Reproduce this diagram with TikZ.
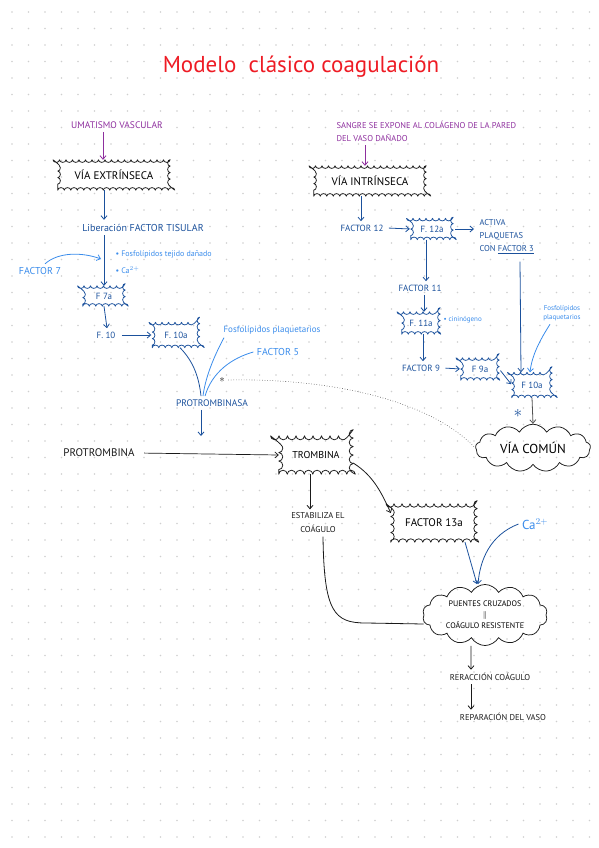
\documentclass[tikz,border=0pt]{standalone}
\usepackage{fontspec}
\setmainfont{PT Sans}
\usepackage{xcolor}
\usepackage{tikz}
\usetikzlibrary{arrows.meta,shapes.symbols,decorations.pathmorphing}
\definecolor{cdark}{HTML}{1B519C}
\definecolor{clight}{HTML}{3A8CEB}
\definecolor{cpurp}{HTML}{8E2F9E}
\definecolor{cred}{HTML}{EE1B24}
\definecolor{cdot}{HTML}{CFCFCF}
\definecolor{cink}{HTML}{1A1A1A}
\tikzset{burst/.style={rectangle,inner sep=2pt},
  spk/.style={draw=cink,line width=0.75pt,line join=round,decorate,
    decoration={bumps,segment length=13pt,amplitude=2.6pt}},
  puff/.style={cloud,draw=cink,line width=0.75pt,cloud puffs=14,cloud puff arc=120,inner sep=0pt},
  arr/.style={-{Straight Barb[length=3.5pt,width=6pt]},line width=0.8pt},
  lnk/.style={line width=0.8pt}}
\newcommand{\hand}[2]{\fontsize{#1}{#2}\selectfont}
\newcommand{\spiky}[2][]{\draw[spk,#1] (#2.south west) -- (#2.south east) -- (#2.north east) -- (#2.north west) -- cycle;}

\begin{document}
\begin{tikzpicture}[x=1pt,y=-1pt,font=\hand{10}{12}]
\useasboundingbox (0,0) rectangle (599,848);
% dotted paper
\foreach \gx in {0,...,35}{\foreach \gy in {0,...,50}{
  \fill[cdot] (12+\gx*16.5,12+\gy*16.5) circle (0.8pt);}}
\node[text=cred,font=\hand{23}{26}] (title) at (301,67) {Modelo\ \ clásico coagulación};
% left column: extrinsic pathway
\node[text=cpurp,font=\hand{9.5}{11}] (trauma) at (117,125) {UMATISMO VASCULAR};
\node[burst,minimum width=112pt,minimum height=30pt,font=\hand{11}{13}] (extr) at (114,175) {VÍA EXTRÍNSECA};
\node[text=cdark,font=\hand{10}{12}] (libft) at (143,228) {Liberación FACTOR TISULAR};
\node[text=clight,anchor=west,font=\hand{8}{10}] (fosf1) at (112,254) {• Fosfolípidos tejido dañado};
\node[text=clight,anchor=west,font=\hand{8}{10}] (ca1) at (112,270) {• Ca$^{2+}$};
\node[text=clight,font=\hand{10}{12}] (f7) at (40,271) {FACTOR 7};
\node[burst,text=cdark,minimum width=42pt,minimum height=20pt,font=\hand{9}{11}] (f7a) at (104,296) {F 7a};
\node[text=cdark,font=\hand{9}{11}] (f10) at (106,335) {F. 10};
\node[burst,text=cdark,minimum width=47pt,minimum height=25pt,font=\hand{9}{11}] (f10a) at (176,335) {F. 10a};
\node[text=clight,font=\hand{9}{11}] (fosf2) at (272,330) {Fosfolípidos plaquetarios};
\node[text=clight,font=\hand{10}{12}] (fac5) at (278,352) {FACTOR 5};
\node[text=cink,font=\hand{11}{11}] (star1) at (222,380) {$\ast$};
\node[text=cdark,font=\hand{9.5}{11}] (protromb) at (212,403) {PROTROMBINASA};
\node[text=cink,font=\hand{11}{13}] (protrombina) at (99,453) {PROTROMBINA};
\node[burst,minimum width=74pt,minimum height=38pt,font=\hand{10}{12}] (trombina) at (316,455) {TROMBINA};
\node[text=cink,align=center,font=\hand{8.5}{14}] (estab) at (318,523) {ESTABILIZA EL\\COÁGULO};
\node[burst,minimum width=86pt,minimum height=38pt,font=\hand{11}{13}] (f13a) at (434,523) {FACTOR 13a};
\node[text=clight,font=\hand{13}{15}] (ca2) at (535,524) {Ca$^{2+}$};
\node[puff,minimum width=125pt,minimum height=58pt,aspect=2.3,align=center,font=\hand{8}{11}] (puentes) at (485,615)
  {PUENTES CRUZADOS\\$\parallel$\\COÁGULO RESISTENTE};
\node[text=cink,font=\hand{8.5}{10}] (rerac) at (490,677) {RERACCIÓN COÁGULO};
\node[text=cink,font=\hand{8.5}{10}] (repar) at (503,717) {REPARACIÓN DEL VASO};
% right column: intrinsic pathway
\node[text=cpurp,anchor=west,align=left,font=\hand{8.5}{13}] (sangre) at (333,131)
  {SANGRE SE EXPONE AL COLÁGENO DE LA PARED\\DEL VASO DAÑADO};
\node[burst,minimum width=112pt,minimum height=30pt,font=\hand{11}{13}] (intr) at (370,181) {VÍA INTRÍNSECA};
\node[text=cdark,font=\hand{9}{11}] (f12) at (362,228) {FACTOR 12};
\node[burst,text=cdark,minimum width=42pt,minimum height=21pt,font=\hand{9}{11}] (f12a) at (432,229) {F. 12a};
\node[text=cdark,anchor=west,align=left,font=\hand{8.5}{13}] (activa) at (476,237)
  {ACTIVA\\PLAQUETAS\\CON \underline{FACTOR 3}};
\node[text=cdark,font=\hand{9}{11}] (f11) at (420,288) {FACTOR 11};
\node[burst,text=cdark,minimum width=38pt,minimum height=22pt,font=\hand{9}{11}] (f11a) at (421,323) {F. 11a};
\node[text=clight,anchor=west,font=\hand{7}{9}] (cinin) at (440,320) {• cininógeno};
\node[text=cdark,font=\hand{9}{11}] (f9) at (421,368) {FACTOR 9};
\node[burst,text=cdark,minimum width=38pt,minimum height=22pt,font=\hand{9}{11}] (f9a) at (480,369) {F 9a};
\node[burst,text=cdark,minimum width=40pt,minimum height=25pt,font=\hand{9}{11}] (f10b) at (532,385) {F 10a};
\node[text=clight,align=center,font=\hand{7}{9}] (fosf3) at (562,313) {Fosfolípidos\\plaquetarios};
\node[text=cdark,font=\hand{17}{17}] (star2) at (518,413) {$\ast$};
\node[puff,minimum width=115pt,minimum height=45pt,aspect=2.6,cloud puffs=13,font=\hand{13}{15}] (comun) at (533,448) {VÍA COMÚN};
\coordinate (j7) at (101,259);
\coordinate (pj) at (201,436);
% spiky outlines
\spiky{extr}
\spiky{intr}
\spiky[draw=cdark]{f7a}
\spiky[draw=cdark]{f10a}
\spiky[draw=cdark]{f12a}
\spiky[draw=cdark]{f11a}
\spiky[draw=cdark]{f9a}
\spiky[draw=cdark]{f10b}
\spiky[decoration={bumps,segment length=17pt,amplitude=4pt}]{trombina}
\spiky[decoration={bumps,segment length=16pt,amplitude=3.4pt}]{f13a}
% connectors
\draw[arr,cpurp] ([xshift=-14]trauma.south) -- ([xshift=-11]extr.north);
\draw[arr,cpurp] ([xshift=32]sangre.south west) -- ([xshift=-5]intr.north);
\draw[arr,cdark] ([xshift=-10]extr.south) -- ([xshift=-39,yshift=1]libft.north);
\draw[arr,cdark] ([xshift=-39]libft.south) -- (f7a.north);
\draw[arr,clight] ([xshift=5]f7.north) .. controls (58,252) and (82,252) .. (j7);
\draw[arr,cdark] (f7a.south) -- ([xshift=1]f10.north);
\draw[arr,cdark,shorten <=3pt,shorten >=1pt] (f10.east) -- (f10a.west);
\draw[lnk,cdark] ([xshift=4]f10a.south) .. controls (194,362) and (199,378) .. ([xshift=-11]protromb.north);
\draw[lnk,clight] ([xshift=-48]fosf2.south) .. controls (212,360) and (205,380) .. ([xshift=-9]protromb.north);
\draw[lnk,clight] (fac5.west) .. controls (232,358) and (212,372) .. ([xshift=-7]protromb.north);
\draw[cink!80,line width=0.6pt,dotted] (star1.east) .. controls (330,378) and (430,400) .. (comun.west);
\draw[arr,cdark] ([xshift=-11]protromb.south) -- (pj);
\draw[arr,cink,line width=0.7pt,shorten <=6pt] (protrombina.east) -- (trombina.west);
\draw[arr,cink] ([xshift=-6]trombina.south) -- ([xshift=-8]estab.north);
\draw[lnk,cink] ([xshift=5]estab.south) .. controls (324,612) and (334,623) .. (366,623) -- ([yshift=-9]puentes.west);
\draw[arr,cink] ([yshift=-8]trombina.east) .. controls (374,476) and (382,494) .. ([yshift=10]f13a.west);
\draw[arr,cdark] ([xshift=31]f13a.south) -- ([xshift=-8]puentes.north);
\draw[arr,cdark] (ca2.west) .. controls (490,535) and (480,560) .. ([xshift=-7]puentes.north);
\draw[arr,cink] ([xshift=-14]puentes.south) -- ([xshift=-19]rerac.north);
\draw[arr,cink] ([xshift=-19]rerac.south) -- ([xshift=-32]repar.north);
\draw[arr,cdark] ([xshift=-9]intr.south) -- ([xshift=-1]f12.north);
\draw[arr,cdark,shorten <=2pt,shorten >=1pt] (f12.east) -- (f12a.west);
\draw[arr,cdark,shorten <=2pt,shorten >=2pt] (f12a.east) -- (f12a.east -| activa.west);
\draw[arr,cdark] ([xshift=-6]f12a.south) -- ([xshift=-6]f12a.south |- f11.north);
\draw[arr,cdark] ([xshift=4]f11.south) -- ([xshift=4]f11.south |- f11a.north);
\draw[arr,cdark] ([xshift=2]f11a.south) -- ([xshift=2]f11a.south |- f9.north);
\draw[arr,cdark,shorten <=2pt,shorten >=1pt] (f9.east) -- (f9a.west);
\draw[arr,cdark,shorten <=2pt,shorten >=1pt] (f9a.east) -- (f10b.west);
\draw[arr,cdark] ([xshift=-12,yshift=-4]f10b.north |- activa.south) -- ([xshift=-11]f10b.north);
\draw[arr,clight] ([xshift=-12]fosf3.south) .. controls (540,340) and (532,355) .. ([xshift=-2]f10b.north);
\draw[arr,cink!75] (f10b.south) -- (comun.north);
\end{tikzpicture}
\end{document}
